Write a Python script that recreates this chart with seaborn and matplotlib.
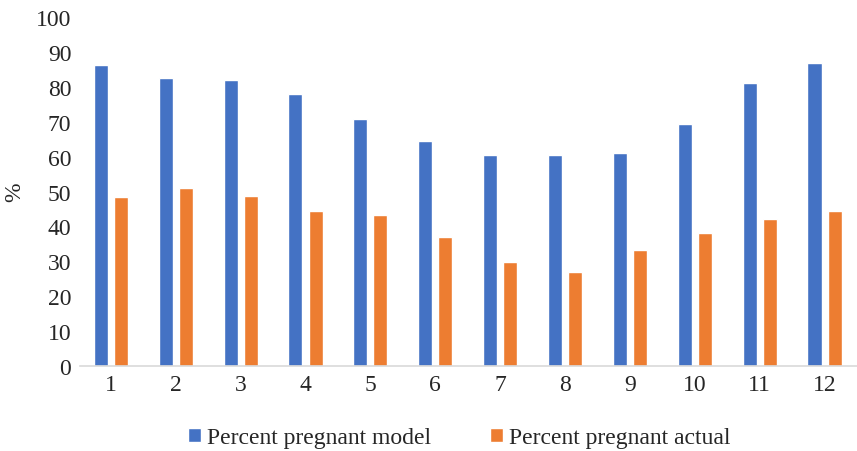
import pandas as pd
import matplotlib.pyplot as plt
import seaborn as sns

# Datos
months = [str(m) for m in range(1, 13)]
model_pct = [86.3, 82.4, 81.9, 77.9, 70.7, 64.5, 60.6, 60.6, 61.1, 69.4, 81.2, 86.8]
actual_pct = [48.3, 51.0, 48.8, 44.4, 43.3, 37.1, 29.8, 26.9, 33.2, 38.2, 42.0, 44.3]
series_names = ["Percent pregnant model", "Percent pregnant actual"]
colors = ["#4472C4", "#ED7D31"]

df = pd.DataFrame({
    "mes": months * 2,
    "valor": model_pct + actual_pct,
    "serie": [series_names[0]] * 12 + [series_names[1]] * 12,
})

sns.set_style("white")
plt.rcParams["font.family"] = ["Liberation Serif", "DejaVu Serif"]

fig = plt.figure(figsize=(8.57, 4.52), dpi=100)
ax = fig.add_axes([0.093, 0.188, 0.907, 0.772])

sns.barplot(data=df, x="mes", y="valor", hue="serie", palette=colors,
            width=0.62, gap=0.3, ax=ax, saturation=1, legend=True)

ax.set_ylim(0, 100)
ax.set_yticks(range(0, 101, 10))
ax.set_xlim(-0.48, 11.5)
ax.set_xlabel("")
ax.set_ylabel("%", fontsize=17, labelpad=8)
ax.tick_params(axis="both", length=0, labelsize=17)
ax.tick_params(axis="x", pad=6)
ax.tick_params(axis="y", pad=6)

for side in ["top", "right", "left"]:
    ax.spines[side].set_visible(False)
ax.spines["bottom"].set_color("#d9d9d9")
ax.spines["bottom"].set_linewidth(1.2)

handles, labels = ax.get_legend_handles_labels()
ax.legend(handles, labels, loc="center", bbox_to_anchor=(0.488, -0.205),
          ncol=2, frameon=False, fontsize=17, handlelength=0.55, handleheight=0.55,
          handletextpad=0.25, columnspacing=2.5)

fig.savefig("out.png", dpi=100)
